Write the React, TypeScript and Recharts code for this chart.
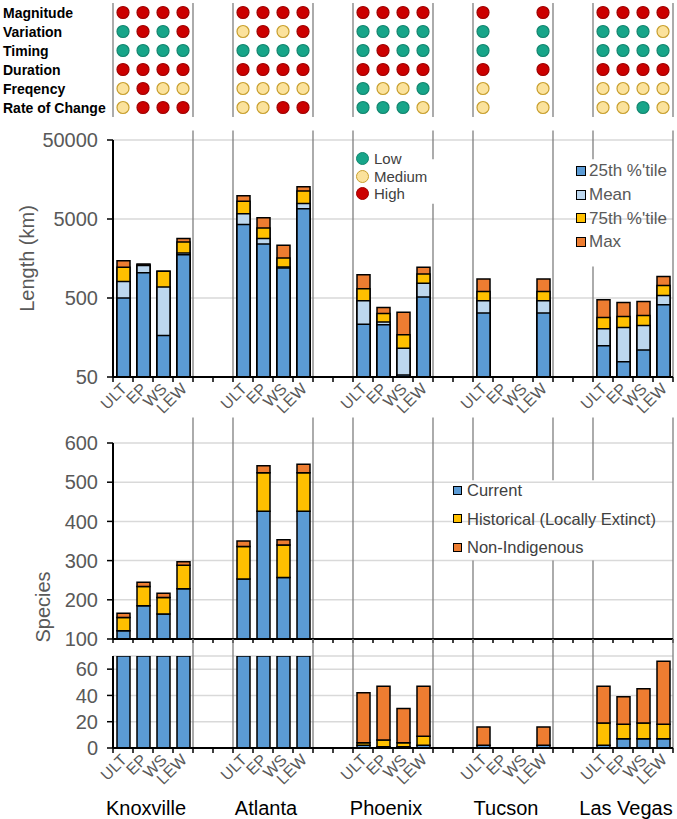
import React from 'react';
import { ComposedChart, Bar, Line, XAxis, YAxis, CartesianGrid, ReferenceLine, Legend } from 'recharts';

const FONT = '"Liberation Sans", Arial, sans-serif';

const cities = ['Knoxville', 'Atlanta', 'Phoenix', 'Tucson', 'Las Vegas'];
const stations = ['ULT', 'EP', 'WS', 'LEW'];
const metrics = ['Magnitude', 'Variation', 'Timing', 'Duration', 'Freqency', 'Rate of Change'];
const levelCodes = ['L', 'M', 'H'];
const levelNames = ['Low', 'Medium', 'High'];

// alteration level per metric row, stations ULT, EP, WS, LEW
const knoxvilleLevels = [
  ['H', 'H', 'H', 'H'],
  ['L', 'H', 'L', 'H'],
  ['L', 'L', 'L', 'L'],
  ['H', 'H', 'H', 'H'],
  ['M', 'H', 'M', 'M'],
  ['M', 'H', 'H', 'H'],
];
const atlantaLevels = [
  ['H', 'H', 'H', 'H'],
  ['M', 'H', 'M', 'H'],
  ['L', 'L', 'L', 'L'],
  ['H', 'H', 'H', 'H'],
  ['M', 'M', 'M', 'M'],
  ['M', 'M', 'H', 'H'],
];
const phoenixLevels = [
  ['H', 'H', 'H', 'H'],
  ['L', 'L', 'L', 'L'],
  ['L', 'H', 'L', 'L'],
  ['H', 'H', 'H', 'H'],
  ['L', 'M', 'M', 'L'],
  ['L', 'L', 'L', 'M'],
];
const tucsonLevels = [
  ['H', null, null, 'H'],
  ['L', null, null, 'L'],
  ['L', null, null, 'L'],
  ['H', null, null, 'H'],
  ['M', null, null, 'M'],
  ['M', null, null, 'M'],
];
const lasVegasLevels = [
  ['H', 'H', 'H', 'H'],
  ['L', 'L', 'L', 'M'],
  ['L', 'L', 'L', 'L'],
  ['H', 'H', 'H', 'H'],
  ['M', 'M', 'M', 'M'],
  ['M', 'M', 'L', 'M'],
];
const levelSets = [knoxvilleLevels, atlantaLevels, phoenixLevels, tucsonLevels, lasVegasLevels];

// Length (km), order: city x station
const lengthP25 = [500, 1040, 167, 1770, 4260, 2420, 1200, 6740, 233, 229, 53, 514, 322, null, null, 322, 124, 78, 110, 410];
const lengthMean = [811, 1294, 688, 1850, 5820, 2830, 1230, 7870, 461, 248, 116, 766, 461, null, null, 461, 204, 211, 224, 538];
const lengthP75 = [1222, 1310, 1090, 2565, 8410, 3860, 1610, 11280, 655, 318, 171, 1007, 606, null, null, 606, 283, 292, 300, 722];
const lengthMax = [1486, 1345, 1090, 2826, 9840, 5180, 2320, 12820, 987, 380, 331, 1222, 869, null, null, 869, 475, 439, 452, 939];
const lengthTicks = [50, 500, 5000, 50000];
const lengthLegendOrder = ['p25', 'mean', 'p75', 'max'];

// Species counts (stacked), order: city x station
const speciesCurrent = [121, 185, 164, 228, 253, 426, 257, 426, 2, 1, 1, 2, 2, null, null, 2, 2, 7, 7, 7];
const speciesHistorical = [34, 49, 42, 60, 83, 98, 83, 98, 2, 5, 3, 7, 0, null, null, 0, 17, 11, 12, 11];
const speciesNonIndigenous = [11, 11, 11, 9, 14, 18, 13, 22, 38, 41, 26, 38, 14, null, null, 14, 28, 21, 26, 48];
const speciesUpperTicks = [100, 200, 300, 400, 500, 600];
const speciesLowerTicks = [0, 20, 40, 60];
const speciesLegendOrder = ['current', 'historical', 'nonIndigenous'];

const COLORS = { p25: '#5B9BD5', mean: '#BDD7EE', p75: '#FFC000', max: '#ED7D31' };
const LEVEL_STYLE: Record<string, { fill: string; stroke: string }> = {
  L: { fill: '#17A589', stroke: '#12866F' },
  M: { fill: '#FBE29C', stroke: '#C89F2E' },
  H: { fill: '#CC0000', stroke: '#A00000' },
};

// ---- categories (with empty spacer slots between cities)
type Cat = { key: string; city: string | null; station: string | null; ci: number; si: number; idx: number | null };
const categories: Cat[] = [];
cities.forEach((city, ci) => {
  stations.forEach((st, si) => categories.push({ key: `${city}-${st}`, city, station: st, ci, si, idx: ci * stations.length + si }));
  if (ci < cities.length - 1) {
    for (let g = 0; g < 2; g++) categories.push({ key: `gap-${ci}-${g}`, city: null, station: null, ci, si: -1, idx: null });
  }
});
const catByKey: Record<string, Cat> = {};
categories.forEach((c) => (catByKey[c.key] = c));

const rows = categories.map((cat) => {
  const i = cat.idx;
  const row: any = { key: cat.key };
  metrics.forEach((_, mi) => {
    const lvl = i == null ? null : levelSets[cat.ci][mi][cat.si];
    row[`lvl${mi}`] = lvl;
    row[`row${mi}`] = lvl ? metrics.length - mi : null;
  });
  row.p25 = i == null ? null : lengthP25[i];
  row.mean = i == null ? null : lengthMean[i];
  row.p75 = i == null ? null : lengthP75[i];
  row.max = i == null ? null : lengthMax[i];
  row.current = i == null ? null : speciesCurrent[i];
  row.historical = i == null ? null : speciesHistorical[i];
  row.nonIndigenous = i == null ? null : speciesNonIndigenous[i];
  return row;
});

// ---- layout
const W = 677;
const Y_AXIS_W = 113;
const M_RIGHT = 4;
const PLOT_W = W - Y_AXIS_W - M_RIGHT;
const BAND_HALF = PLOT_W / categories.length / 2;
const BAR_SIZE = 13;

const A = { top: 0, height: 125, mTop: 3, mBottom: 8 };
const B = { top: 125, height: 295, mTop: 15, xH: 43 };
const C = { top: 405, height: 250, mTop: 38, xH: 16 };
const D = { top: 625, height: 194, mTop: 31, xH: 71 };

const SEP_STROKE = '#7F7F7F';

type Sep = { x: string; position: 'start' | 'end' };
const sepStarts: Sep[] = cities.map((c) => ({ x: `${c}-ULT`, position: 'start' }));
const sepEnds: Sep[] = cities.map((c) => ({ x: `${c}-LEW`, position: 'end' }));
const allSeps: Sep[] = [...sepStarts, ...sepEnds];
const innerSeps: Sep[] = allSeps.filter((s) => s.x !== `${cities[0]}-ULT`);

const renderSeps = (seps: Sep[], range: [number, number], breaks: Record<string, [number, number]> = {}) =>
  seps.flatMap((s) => {
    const id = `${s.x}|${s.position}`;
    const br = breaks[id];
    const parts: [number, number][] = br ? [[range[0], br[0]], [br[1], range[1]]] : [range];
    return parts.map((p, k) => (
      <ReferenceLine
        key={`${id}-${k}`}
        segment={[{ x: s.x, y: p[0] }, { x: s.x, y: p[1] }]}
        position={s.position}
        stroke={SEP_STROKE}
        strokeWidth={1.3}
        ifOverflow="visible"
      />
    ));
  });

const makeStationTick = (opts: { labels: boolean; cityNames: boolean; markLen: number }) => (props: any) => {
  const { x, y, payload } = props;
  const cat = catByKey[payload.value];
  if (!cat) return <g />;
  const isLast = categories[categories.length - 1].key === cat.key;
  return (
    <g>
      <line x1={x - BAND_HALF} x2={x - BAND_HALF} y1={y} y2={y + opts.markLen} stroke="#000" strokeWidth={1.5} />
      {isLast && <line x1={x + BAND_HALF} x2={x + BAND_HALF} y1={y} y2={y + opts.markLen} stroke="#000" strokeWidth={1.5} />}
      {opts.labels && cat.station && (
        <text
          transform={`translate(${x + 1},${y + 9}) rotate(-45)`}
          textAnchor="end"
          dominantBaseline="central"
          fontSize={16}
          fill="#595959"
          fontFamily={FONT}
        >
          {cat.station}
        </text>
      )}
      {opts.cityNames && cat.si === 1 && (
        <text x={x + BAND_HALF - 7} y={y + 60} textAnchor="middle" dominantBaseline="central" fontSize={20} fill="#000" fontFamily={FONT}>
          {cat.city}
        </text>
      )}
    </g>
  );
};

const AxisTitle = (props: any) => {
  const { viewBox, text, cx, dy = 0 } = props;
  const cy = viewBox.y + viewBox.height / 2 + dy;
  return (
    <text transform={`translate(${cx},${cy}) rotate(-90)`} textAnchor="middle" dominantBaseline="central" fontSize={20} fill="#595959" fontFamily={FONT}>
      {text}
    </text>
  );
};

const MetricTick = (props: any) => {
  const { y, payload } = props;
  return (
    <text x={3} y={y} dominantBaseline="central" fontWeight="bold" fontSize={14} fill="#000" fontFamily={FONT}>
      {metrics[metrics.length - payload.value]}
    </text>
  );
};

const makeLevelDot = (mi: number) => (props: any) => {
  const { cx, cy, payload, index } = props;
  const lvl = payload ? payload[`lvl${mi}`] : null;
  if (!lvl || cy == null || cx == null) return <g key={`d${mi}-${index}`} />;
  const st = LEVEL_STYLE[lvl];
  return <circle key={`d${mi}-${index}`} cx={cx} cy={cy} r={6} fill={st.fill} stroke={st.stroke} strokeWidth={1.2} />;
};

const SquareLegend = (props: any) => {
  const { payload = [], order, fontSize, color, rowH, box, gap } = props;
  const items = [...payload].sort((a: any, b: any) => order.indexOf(a.dataKey) - order.indexOf(b.dataKey));
  return (
    <div style={{ fontFamily: FONT }}>
      {items.map((it: any) => (
        <div key={it.value} style={{ display: 'flex', alignItems: 'center', height: rowH, whiteSpace: 'nowrap' }}>
          <span style={{ display: 'inline-block', width: box, height: box, background: it.color, border: '1.5px solid #000', marginRight: gap }} />
          <span style={{ fontSize, color, lineHeight: 1 }}>{it.value}</span>
        </div>
      ))}
    </div>
  );
};

const yAxisCommon = {
  width: Y_AXIS_W,
  tickSize: 6,
  tickMargin: 9,
  interval: 0 as const,
  allowDataOverflow: true,
  tick: { fontSize: 20, fill: '#595959', fontFamily: FONT },
  axisLine: { stroke: '#000', strokeWidth: 2 },
  tickLine: { stroke: '#000', strokeWidth: 1.5 },
};

export default function App() {
  return (
    <div style={{ position: 'absolute', left: 0, top: 0, width: W, height: 819, background: '#fff', fontFamily: FONT, overflow: 'hidden' }}>
      {/* Flow metric matrix */}
      <div style={{ position: 'absolute', left: 0, top: A.top }}>
        <ComposedChart width={W} height={A.height} data={rows} margin={{ top: A.mTop, right: M_RIGHT, bottom: A.mBottom, left: 0 }}>
          <XAxis dataKey="key" hide scale="band" />
          <YAxis
            type="number"
            domain={[0.5, metrics.length + 0.5]}
            ticks={metrics.map((_, i) => metrics.length - i)}
            width={Y_AXIS_W}
            axisLine={false}
            tickLine={false}
            interval={0}
            tick={MetricTick}
          />
          {allSeps.map((s) => (
            <ReferenceLine key={`${s.x}${s.position}`} x={s.x} position={s.position} stroke={SEP_STROKE} strokeWidth={1.3} />
          ))}
          {metrics.map((m, mi) => (
            <Line key={m} dataKey={`row${mi}`} stroke="none" isAnimationActive={false} dot={makeLevelDot(mi)} activeDot={false} />
          ))}
        </ComposedChart>
      </div>

      {/* Length chart */}
      <div style={{ position: 'absolute', left: 0, top: B.top }}>
        <ComposedChart
          width={W}
          height={B.height}
          data={rows}
          barSize={BAR_SIZE}
          barGap={-BAR_SIZE}
          margin={{ top: B.mTop, right: M_RIGHT, bottom: 0, left: 0 }}
        >
          <CartesianGrid vertical={false} stroke="#D9D9D9" strokeWidth={1.5} />
          <XAxis
            dataKey="key"
            interval={0}
            height={B.xH}
            tickLine={false}
            tickSize={0}
            tickMargin={0}
            axisLine={{ stroke: '#000', strokeWidth: 2 }}
            tick={makeStationTick({ labels: true, cityNames: false, markLen: 5 })}
          />
          <YAxis
            {...yAxisCommon}
            type="number"
            scale="log"
            domain={[lengthTicks[0], lengthTicks[lengthTicks.length - 1]]}
            ticks={lengthTicks}
            label={(p: any) => <AxisTitle {...p} text="Length (km)" cx={27} />}
          />
          {renderSeps(innerSeps, [50, 66000], {
            'Phoenix-LEW|end': [7800, 28500],
            'Las Vegas-ULT|start': [1250, 28500],
          })}
          <Bar dataKey="max" name="Max" fill={COLORS.max} stroke="#000" strokeWidth={1.5} isAnimationActive={false} />
          <Bar dataKey="p75" name="75th %'tile" fill={COLORS.p75} stroke="#000" strokeWidth={1.5} isAnimationActive={false} />
          <Bar dataKey="mean" name="Mean" fill={COLORS.mean} stroke="#000" strokeWidth={1.5} isAnimationActive={false} />
          <Bar dataKey="p25" name="25th %'tile" fill={COLORS.p25} stroke="#000" strokeWidth={1.5} isAnimationActive={false} />
          <Legend
            verticalAlign="middle"
            align="center"
            wrapperStyle={{ left: 576, top: 34, width: 100, height: 96 }}
            content={(p: any) => (
              <SquareLegend payload={p.payload} order={lengthLegendOrder} fontSize={17} color="#595959" rowH={23.7} box={8} gap={3} />
            )}
          />
        </ComposedChart>
      </div>

      {/* Low / Medium / High key */}
      <div style={{ position: 'absolute', left: 356, top: 150 }}>
        {levelCodes.map((c, i) => (
          <div key={c} style={{ display: 'flex', alignItems: 'center', height: 17.5 }}>
            <span
              style={{
                display: 'inline-block',
                width: 11,
                height: 11,
                borderRadius: '50%',
                background: LEVEL_STYLE[c].fill,
                border: `1px solid ${LEVEL_STYLE[c].stroke}`,
                marginRight: 5,
              }}
            />
            <span style={{ fontSize: 15, color: '#404040', lineHeight: 1 }}>{levelNames[i]}</span>
          </div>
        ))}
      </div>

      {/* Species: upper part */}
      <div style={{ position: 'absolute', left: 0, top: C.top }}>
        <ComposedChart width={W} height={C.height} data={rows} barSize={BAR_SIZE} margin={{ top: C.mTop, right: M_RIGHT, bottom: 0, left: 0 }}>
          <CartesianGrid vertical={false} stroke="#D9D9D9" strokeWidth={1.5} />
          <XAxis
            dataKey="key"
            interval={0}
            height={C.xH}
            tickLine={false}
            tickSize={0}
            tickMargin={0}
            axisLine={{ stroke: '#000', strokeWidth: 2 }}
            tick={makeStationTick({ labels: false, cityNames: false, markLen: 4 })}
          />
          <YAxis
            {...yAxisCommon}
            type="number"
            domain={[speciesUpperTicks[0], speciesUpperTicks[speciesUpperTicks.length - 1]]}
            ticks={speciesUpperTicks}
            label={(p: any) => <AxisTitle {...p} text="Species" cx={43} dy={66} />}
          />
          {renderSeps(innerSeps, [100, 665], {
            'Tucson-ULT|start': [300, 505],
            'Tucson-LEW|end': [300, 505],
            'Las Vegas-ULT|start': [300, 505],
          })}
          <Bar dataKey="current" name="Current" stackId="s" fill={COLORS.p25} stroke="#000" strokeWidth={1.5} isAnimationActive={false} />
          <Bar dataKey="historical" name="Historical (Locally Extinct)" stackId="s" fill={COLORS.p75} stroke="#000" strokeWidth={1.5} isAnimationActive={false} />
          <Bar dataKey="nonIndigenous" name="Non-Indigenous" stackId="s" fill={COLORS.max} stroke="#000" strokeWidth={1.5} isAnimationActive={false} />
          <Legend
            verticalAlign="middle"
            align="center"
            wrapperStyle={{ left: 453, top: 71, width: 220, height: 86 }}
            content={(p: any) => (
              <SquareLegend payload={p.payload} order={speciesLegendOrder} fontSize={16.5} color="#404040" rowH={28.5} box={7} gap={5} />
            )}
          />
        </ComposedChart>
      </div>

      {/* Species: lower part */}
      <div style={{ position: 'absolute', left: 0, top: D.top }}>
        <ComposedChart width={W} height={D.height} data={rows} barSize={BAR_SIZE} margin={{ top: D.mTop, right: M_RIGHT, bottom: 0, left: 0 }}>
          <CartesianGrid vertical={false} stroke="#D9D9D9" strokeWidth={1.5} />
          <XAxis
            dataKey="key"
            interval={0}
            height={D.xH}
            tickLine={false}
            tickSize={0}
            tickMargin={0}
            axisLine={{ stroke: '#000', strokeWidth: 2 }}
            tick={makeStationTick({ labels: true, cityNames: true, markLen: 5 })}
          />
          <YAxis {...yAxisCommon} type="number" domain={[0, 70]} ticks={speciesLowerTicks} />
          {renderSeps(innerSeps, [0, 83])}
          <Bar dataKey="current" name="Current" stackId="s" fill={COLORS.p25} stroke="#000" strokeWidth={1.5} isAnimationActive={false} />
          <Bar dataKey="historical" name="Historical (Locally Extinct)" stackId="s" fill={COLORS.p75} stroke="#000" strokeWidth={1.5} isAnimationActive={false} />
          <Bar dataKey="nonIndigenous" name="Non-Indigenous" stackId="s" fill={COLORS.max} stroke="#000" strokeWidth={1.5} isAnimationActive={false} />
        </ComposedChart>
      </div>
    </div>
  );
}
